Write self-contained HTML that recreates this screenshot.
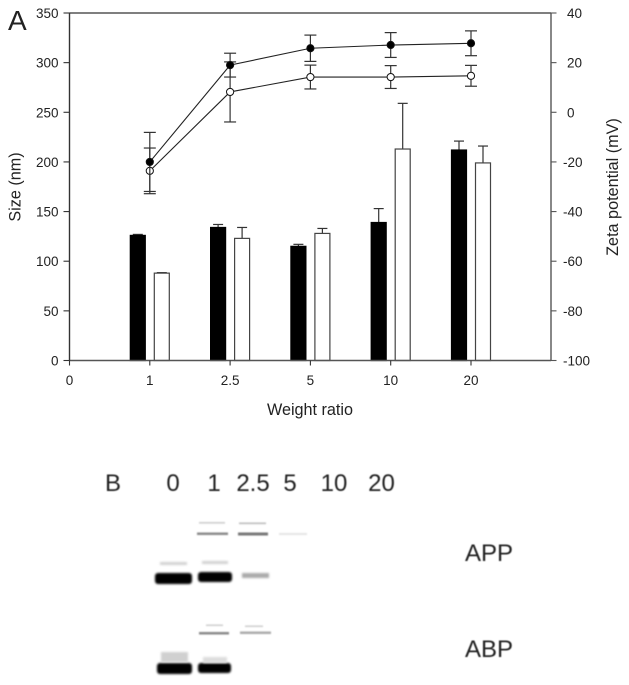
<!DOCTYPE html>
<html>
<head>
<meta charset="utf-8">
<style>
html,body{margin:0;padding:0;background:#fff;}
svg{display:block;}
text{font-family:"Liberation Sans",sans-serif;fill:#222;}
.t{font-size:13.5px;}
.l{font-size:16.2px;}
.g{font-size:24px;fill:#222;}
</style>
</head>
<body>
<svg id="fig" width="629" height="685" viewBox="0 0 629 685" xmlns="http://www.w3.org/2000/svg">
<defs>
<filter id="b1" x="-20%" y="-100%" width="140%" height="300%"><feGaussianBlur stdDeviation="1"/></filter>
<filter id="b2" x="-20%" y="-150%" width="140%" height="400%"><feGaussianBlur stdDeviation="0.7"/></filter>
<filter id="b3" x="-5%" y="-5%" width="110%" height="110%"><feGaussianBlur stdDeviation="0.45"/></filter>
</defs>
<text x="8" y="30" style="font-size:28px">A</text>
<g id="chart"></g>

<g filter="url(#b3)">
<text class="g" x="105" y="491">B</text>
<text class="g" x="173" y="491" text-anchor="middle">0</text>
<text class="g" x="214" y="491" text-anchor="middle">1</text>
<text class="g" x="253" y="491" text-anchor="middle">2.5</text>
<text class="g" x="290" y="491" text-anchor="middle">5</text>
<text class="g" x="334" y="491" text-anchor="middle">10</text>
<text class="g" x="381.5" y="491" text-anchor="middle">20</text>
<text class="g" x="465" y="561">APP</text>
<text class="g" x="465" y="657">ABP</text>
</g>

<g>
<rect x="155" y="573" width="37" height="11" rx="3" fill="#000" filter="url(#b1)"/>
<rect x="198" y="572" width="34" height="10" rx="3" fill="#000" filter="url(#b1)"/>
<rect x="242" y="573" width="27" height="5" fill="#aaa" filter="url(#b1)"/>
<rect x="160" y="562" width="27" height="3" fill="#d2d2d2" filter="url(#b1)"/>
<rect x="202" y="561" width="26" height="3" fill="#d2d2d2" filter="url(#b1)"/>
<rect x="197" y="532.5" width="31" height="2.5" fill="#888" filter="url(#b2)"/>
<rect x="238" y="532.5" width="30" height="3" fill="#777" filter="url(#b2)"/>
<rect x="199" y="522" width="26" height="1.6" fill="#ccc" filter="url(#b2)"/>
<rect x="239" y="522.5" width="27" height="1.6" fill="#bbb" filter="url(#b2)"/>
<rect x="279" y="533" width="28" height="2" fill="#e4e4e4" filter="url(#b2)"/>
</g>

<g>
<rect x="157" y="663" width="35" height="11" rx="3" fill="#000" filter="url(#b1)"/>
<rect x="198" y="663" width="33" height="10" rx="3" fill="#000" filter="url(#b1)"/>
<rect x="161" y="652" width="27" height="10" fill="#d0d0d0" filter="url(#b1)"/>
<rect x="203" y="657" width="24" height="6" fill="#ddd" filter="url(#b1)"/>
<rect x="199" y="632" width="30" height="2.5" fill="#888" filter="url(#b2)"/>
<rect x="240" y="631.5" width="31" height="2.5" fill="#aaa" filter="url(#b2)"/>
<rect x="206" y="624.5" width="17" height="1.5" fill="#ccc" filter="url(#b2)"/>
<rect x="245" y="625.5" width="18" height="1.5" fill="#ccc" filter="url(#b2)"/>
</g>
</svg>
<script>
const categories = ['1', '2.5', '5', '10', '20'];
const xTickLabels = ['0', '1', '2.5', '5', '10', '20'];
const sizeTicks = [0, 50, 100, 150, 200, 250, 300, 350];
const zetaTicks = [-100, -80, -60, -40, -20, 0, 20, 40];
const sizeBlack = [126, 134, 115, 139, 212];
const sizeBlackErr = [1, 3, 2, 14, 9];
const sizeWhite = [88, 123, 128, 213, 199];
const sizeWhiteErr = [0.5, 11, 5, 46, 17];
const zetaBlack = [-20, 19, 25.8, 27.1, 27.8];
const zetaBlackErr = [11.9, 4.8, 5.3, 5, 5];
const zetaWhite = [-23.6, 8.2, 14.2, 14.2, 14.7];
const zetaWhiteErr = [9.2, 12.1, 4.8, 4.6, 4.2];

const NS = 'http://www.w3.org/2000/svg';
const chart = document.getElementById('chart');
const AX = '#555';
const L = 69.5, R = 551, T = 13, B = 360.5, STEP = 80.3;
const ySize = v => B - (v / 350) * (B - T);
const yZeta = v => B - ((v + 100) / 140) * (B - T);
const xPos = i => L + STEP * i;
const xCat = i => xPos(i + 1);

function mk(tag, attrs, text) {
  const el = document.createElementNS(NS, tag);
  for (const k in attrs) el.setAttribute(k, attrs[k]);
  if (text !== undefined) el.textContent = text;
  chart.appendChild(el);
  return el;
}
function line(x1, y1, x2, y2, stroke, w, name) {
  const el = mk('line', {x1, y1, x2, y2, stroke, 'stroke-width': w});
  
  
  return el;
}

// bars
categories.forEach((c, i) => {
  const series = [
    {v: sizeBlack[i], e: sizeBlackErr[i], x: xCat(i) - 19.5, fill: '#000', stroke: '#000', n: 'black'},
    {v: sizeWhite[i], e: sizeWhiteErr[i], x: xCat(i) + 4.5, fill: '#fff', stroke: '#444', n: 'white'}
  ];
  series.forEach(s => {
    const cx = s.x + 7.5;
    line(cx, ySize(s.v + s.e), cx, ySize(s.v), '#333', 1.2, 'bar-error-' + s.n + '-' + c);
    line(cx - 5, ySize(s.v + s.e), cx + 5, ySize(s.v + s.e), '#333', 1.2, 'bar-cap-' + s.n + '-' + c);
    const r = mk('rect', {x: s.x, y: ySize(s.v), width: 15, height: B - ySize(s.v), fill: s.fill, stroke: s.stroke, 'stroke-width': 1.2});
    
    
  });
});

// axes
line(L, T, R, T, AX, 1.4, 'top-border');
line(L, B, R, B, AX, 1.4, 'x-axis');
line(L, T, L, B, '#333', 1.4, 'left-axis');
line(R, T, R, B, AX, 1.4, 'right-axis');

sizeTicks.forEach(v => {
  line(L - 6, ySize(v), L, ySize(v), '#333', 1.1, 'size-tick-' + v);
  const t = mk('text', {x: L - 11, y: ySize(v) + 5, 'text-anchor': 'end', class: 't'}, String(v));
  
  
});
zetaTicks.forEach(v => {
  line(R, yZeta(v), R + 5.5, yZeta(v), AX, 1.1, 'zeta-tick-' + v);
  const t = mk('text', {x: v < 0 ? 563 : 567, y: yZeta(v) + 5, 'text-anchor': 'start', class: 't'}, String(v));
  
  
});
xTickLabels.forEach((lab, i) => {
  line(xPos(i), B, xPos(i), B + 5, '#333', 1.1, 'x-tick-' + lab);
  const t = mk('text', {x: xPos(i), y: B + 24.5, 'text-anchor': 'middle', class: 't'}, lab);
  
  
});

// zeta series
function series(values, errs, fill, name) {
  values.forEach((v, i) => {
    const x = xCat(i);
    line(x, yZeta(v + errs[i]), x, yZeta(v - errs[i]), '#333', 1.2, name + '-error-' + categories[i]);
    line(x - 6, yZeta(v + errs[i]), x + 6, yZeta(v + errs[i]), '#333', 1.2, name + '-cap-top-' + categories[i]);
    line(x - 6, yZeta(v - errs[i]), x + 6, yZeta(v - errs[i]), '#333', 1.2, name + '-cap-bottom-' + categories[i]);
  });
  const p = mk('polyline', {points: values.map((v, i) => xCat(i) + ',' + yZeta(v)).join(' '), fill: 'none', stroke: '#222', 'stroke-width': 1.1});
  
  
  values.forEach((v, i) => {
    const c = mk('circle', {cx: xCat(i), cy: yZeta(v), r: 3.6, fill, stroke: '#111', 'stroke-width': 1});
    
    
  });
}
series(zetaWhite, zetaWhiteErr, '#fff', 'zeta-white');
series(zetaBlack, zetaBlackErr, '#000', 'zeta-black');

// axis titles
const ty = mk('text', {x: 0, y: 0, 'text-anchor': 'middle', class: 'l', transform: 'translate(20.5,187) rotate(-90)'}, 'Size (nm)');


const tz = mk('text', {x: 0, y: 0, 'text-anchor': 'middle', class: 'l', transform: 'translate(618,187) rotate(-90)'}, 'Zeta potential (mV)');


const tx = mk('text', {x: 310, y: 415, 'text-anchor': 'middle', class: 'l'}, 'Weight ratio');


</script>
</body>
</html>
